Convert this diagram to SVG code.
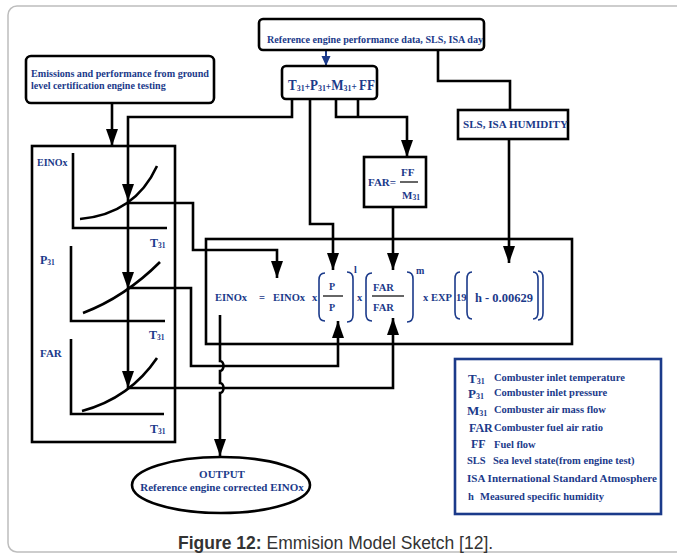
<svg xmlns="http://www.w3.org/2000/svg" width="677" height="554" viewBox="0 0 677 554">
  <style>
    .frame { fill: none; stroke: #bdbdbd; stroke-width: 1.5; }
    .box { fill: #fff; stroke: #000; stroke-width: 2.6; }
    .open { fill: none; stroke: #000; stroke-width: 2.6; }
    .ln { fill: none; stroke: #000; stroke-width: 2.6; }
    .arr { fill: none; stroke: #000; stroke-width: 2.6; marker-end: url(#ah); }
    .brk { fill: none; stroke: #1b3a8a; stroke-width: 1.6; }
    .fl { stroke: #000; stroke-width: 1.2; }
    text { font-family: "Liberation Serif", "Times New Roman", serif; font-weight: bold; fill: #1b3a8a; }
    .t10 { font-size: 10px; }
    .t11 { font-size: 10.5px; }
    .cap { font-family: "Liberation Sans", Arial, sans-serif; font-size: 17.5px; fill: #333; font-weight: normal; }
  </style>
  <defs>
    <marker id="ah" markerUnits="userSpaceOnUse" markerWidth="18" markerHeight="12" refX="17" refY="6" orient="auto">
      <path d="M0,0 L17,6 L0,12 z" fill="#000"/>
    </marker>
    <marker id="ahn" markerUnits="userSpaceOnUse" markerWidth="10" markerHeight="10" refX="10" refY="4.5" orient="auto">
      <path d="M0,0 L10,4.5 L0,9 z" fill="#1b3a8a"/>
    </marker>
  </defs>

  <!-- figure frame -->
  <rect class="frame" x="8" y="6" width="700" height="546" rx="9"/>

  <!-- correlation charts -->
  <g id="charts">
    <rect class="open" x="32" y="146" width="143" height="296"/>
    <path class="ln" d="M73,153 V228 H167"/>
    <path class="ln" d="M80,219 Q135,214 157,166"/>
    <text class="t10" x="37" y="165.5">EINOx</text>
    <text x="150" y="247" font-size="12">T<tspan font-size="7.5" dy="1">31</tspan></text>

    <path class="ln" d="M71,246 V321 H165"/>
    <path class="ln" d="M83,313 Q125,297 160,262"/>
    <text x="40" y="264" font-size="12">P<tspan font-size="7.5" dy="1">31</tspan></text>
    <text x="149" y="339" font-size="12">T<tspan font-size="7.5" dy="1">31</tspan></text>

    <path class="ln" d="M71,339 V414 H164"/>
    <path class="ln" d="M82,411 Q130,398 157,358"/>
    <text x="40" y="357" font-size="11">FAR</text>
    <text x="150" y="433" font-size="12">T<tspan font-size="7.5" dy="1">31</tspan></text>
  </g>

  <!-- correction formula -->
  <g id="formula">
    <rect class="open" x="206" y="239" width="366" height="105"/>
    <text class="t11" x="215" y="300.5">EINOx</text>
    <text class="t11" x="259" y="300.5">=</text>
    <text class="t11" x="273" y="300.5">EINOx</text>
    <text class="t11" x="312" y="300.5">x</text>
    <path class="brk" d="M325,273 Q319,273 319,280 V314 Q319,321 325,321"/>
    <text class="t10" x="329" y="290">P</text>
    <line class="fl" x1="323" y1="296" x2="343" y2="296"/>
    <text class="t10" x="329" y="311">P</text>
    <path class="brk" d="M347,272 Q353,272 353,279 V315 Q353,322 347,322"/>
    <text class="t10" x="354" y="273">l</text>
    <text class="t11" x="357" y="300.5">x</text>
    <path class="brk" d="M372,273 Q366,273 366,280 V314 Q366,321 372,321"/>
    <text class="t11" x="373" y="291">FAR</text>
    <line class="fl" x1="372" y1="296" x2="404" y2="296"/>
    <text class="t11" x="373" y="311">FAR</text>
    <path class="brk" d="M407,272 Q413,272 413,279 V315 Q413,322 407,322"/>
    <text class="t10" x="416" y="274">m</text>
    <text class="t11" x="423" y="300.5">x EXP</text>
    <path class="brk" d="M460,272 Q455,272 455,279 V312 Q455,319 460,319"/>
    <text class="t11" x="456" y="300.5">19</text>
    <path class="brk" d="M472,272 Q467,272 467,279 V312 Q467,319 472,319"/>
    <text x="475" y="301.5" font-size="12.5">h - 0.00629</text>
    <path class="brk" d="M533,272 Q538,272 538,279 V312 Q538,319 533,319"/>
    <path class="brk" d="M538,271 Q543,271 543,278 V313 Q543,320 538,320"/>
  </g>

  <!-- connectors -->
  <g id="connectors">
    <path d="M326,50 V66" fill="none" stroke="#1b3a8a" stroke-width="2" marker-end="url(#ahn)"/>
    <path class="arr" d="M112,103 V146"/>
    <path class="arr" d="M292,99 V117 H128 V201"/>
    <path class="arr" d="M128,201 V289"/>
    <path class="arr" d="M128,289 V388"/>
    <path class="arr" d="M128,203 H193 V250 H277 V278"/>
    <path class="arr" d="M128,288 H191 V366 H338 V321"/>
    <path class="arr" d="M128,388 H393 V318"/>
    <path class="arr" d="M310,99 V224 H333 V270"/>
    <path class="arr" d="M336,99 V117 H407 V157"/>
    <path class="ln" d="M358,99 V117"/>
    <path class="arr" d="M393,207 V270"/>
    <path class="ln" d="M438,50 V81 H510 V110"/>
    <path class="arr" d="M509,139 V263"/>
    <path class="arr" d="M220,315 V361 a3.5,5 0 0 1 0,10 V383 a3.5,5 0 0 1 0,10 V456"/>
  </g>

  <!-- source data box -->
  <g id="ref-data">
    <rect class="box" x="259" y="19" width="225" height="31" rx="4"/>
    <text class="t10" x="267" y="42.5" textLength="216" lengthAdjust="spacingAndGlyphs">Reference engine performance data, SLS, ISA day</text>
  </g>

  <!-- ground test box -->
  <g id="ground-test">
    <rect class="box" x="26" y="56" width="188" height="47" rx="5"/>
    <text class="t10" x="31" y="76.5" textLength="178" lengthAdjust="spacingAndGlyphs">Emissions and performance from ground</text>
    <text class="t10" x="31" y="89">level certification engine testing</text>
  </g>

  <!-- parameters box -->
  <g id="params">
    <rect class="box" x="282" y="66" width="95" height="33" rx="4"/>
    <text x="288" y="89.5" font-size="14" textLength="87" lengthAdjust="spacingAndGlyphs">T<tspan font-size="8.5" dy="1">31</tspan><tspan font-size="10" dy="-1">+</tspan>P<tspan font-size="8.5" dy="1">31</tspan><tspan font-size="10" dy="-1">+</tspan>M<tspan font-size="8.5" dy="1">31</tspan><tspan font-size="10" dy="-1">+ </tspan>FF</text>
  </g>

  <!-- humidity box -->
  <g id="humidity">
    <rect class="box" x="458" y="110" width="110" height="29"/>
    <text class="t10" x="463" y="128" textLength="105" lengthAdjust="spacingAndGlyphs">SLS, ISA HUMIDITY</text>
  </g>

  <!-- fuel air ratio box -->
  <g id="far-box">
    <rect class="box" x="364" y="157" width="62" height="50"/>
    <text x="368" y="186" font-size="11">FAR=</text>
    <text x="401" y="176" font-size="11">FF</text>
    <line class="fl" x1="400" y1="182" x2="418" y2="182"/>
    <text x="402" y="199" font-size="11">M<tspan font-size="7.5" dy="1">31</tspan></text>
  </g>

  <!-- output -->
  <g id="output">
    <ellipse class="box" cx="221" cy="485" rx="89" ry="28"/>
    <text x="222" y="477.5" font-size="11" text-anchor="middle">OUTPUT</text>
    <text x="222" y="491" font-size="11" text-anchor="middle">Reference engine corrected EINOx</text>
  </g>

  <!-- legend -->
  <g id="legend">
    <rect x="455" y="359" width="206" height="155" fill="#fff" stroke="#1b3a8a" stroke-width="2.6"/>
    <text x="468" y="383" font-size="13">T<tspan font-size="8" dy="1">31</tspan></text>
    <text class="t11" x="494" y="381">Combuster inlet temperature</text>
    <text x="468" y="398" font-size="13">P<tspan font-size="8" dy="1">31</tspan></text>
    <text class="t11" x="494" y="396">Combuster inlet pressure</text>
    <text x="467" y="415" font-size="13">M<tspan font-size="8" dy="1">31</tspan></text>
    <text class="t11" x="494" y="413">Combuster air mass flow</text>
    <text x="469" y="432" font-size="12">FAR</text>
    <text class="t11" x="494" y="431">Combuster fuel air ratio</text>
    <text x="471" y="448" font-size="12">FF</text>
    <text class="t11" x="494" y="447.5">Fuel flow</text>
    <text class="t11" x="467" y="463.5">SLS</text>
    <text class="t11" x="493" y="463.5">Sea level state(from engine test)</text>
    <text class="t11" x="467" y="481.5" textLength="190" lengthAdjust="spacingAndGlyphs">ISA International Standard Atmosphere</text>
    <text class="t11" x="468" y="499.5">h</text>
    <text class="t11" x="480" y="499.5">Measured specific humidity</text>
  </g>

  <!-- caption -->
  <text class="cap" x="178" y="549"><tspan font-weight="bold">Figure 12:</tspan> Emmision Model Sketch [12].</text>
</svg>
